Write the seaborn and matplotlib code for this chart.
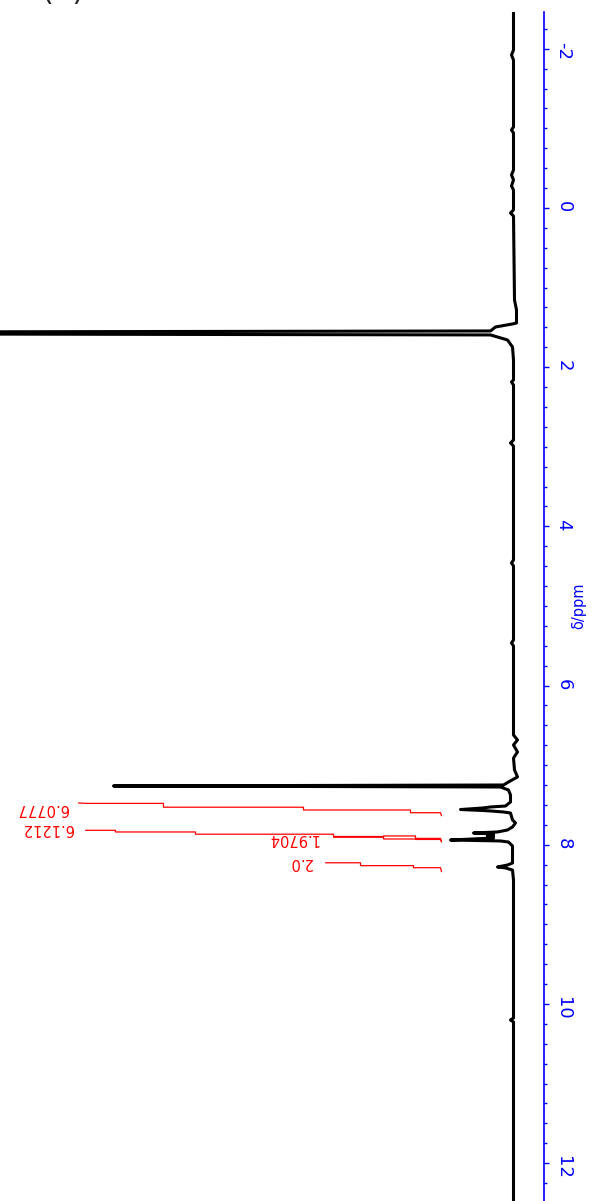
import pandas as pd
import matplotlib
matplotlib.use('Agg')
import matplotlib.pyplot as plt
from matplotlib.ticker import MultipleLocator
import seaborn as sns

# spectrum trace (chemical shift in ppm, intensity in arbitrary units)
shift_ppm = [-2.47, -1.985, -1.922, -1.859, -1.018, -0.980, -0.942, -0.477, -0.415, -0.352,
             -0.276, -0.226, 0.025, 0.063, 0.101, 1.156, 1.281, 1.445, 1.457, 1.495,
             1.545, 1.570, 1.595, 1.658, 1.746, 1.910, 2.161, 2.186, 2.224, 2.915,
             2.952, 2.990, 4.422, 4.460, 4.497, 5.427, 5.465, 5.503, 6.621, 6.683,
             6.746, 6.834, 6.910, 7.060, 7.148, 7.211, 7.249, 7.261, 7.274, 7.312,
             7.374, 7.462, 7.513, 7.525, 7.538, 7.557, 7.569, 7.575, 7.588, 7.601,
             7.688, 7.726, 7.776, 7.814, 7.839, 7.852, 7.864, 7.877, 7.889, 7.902,
             7.915, 7.940, 7.952, 7.965, 8.015, 8.229, 8.254, 8.279, 8.291, 8.317,
             8.442, 10.176, 10.201, 10.226, 12.50]
intensity = [0.0, 0.0, 0.02, 0.0, 0.0, 0.02, 0.0, 0.0, 0.02, 0.0,
             0.02, 0.0, 0.0, 0.03, 0.0, -0.01, -0.03, -0.03, 0.01, 0.18,
             0.23, 12.0, 0.23, 0.06, 0.01, 0.0, 0.0, 0.02, 0.0, 0.0,
             0.03, 0.0, 0.0, 0.02, 0.0, 0.0, 0.02, 0.0, 0.0, -0.04,
             0.0, -0.04, 0.0, -0.01, -0.04, 0.05, 0.10, 4.00, 0.13, 0.05,
             0.03, 0.03, 0.08, 0.23, 0.31, 0.53, 0.31, 0.23, 0.10, 0.03,
             0.01, -0.02, 0.01, 0.06, 0.16, 0.40, 0.20, 0.26, 0.20, 0.26,
             0.20, 0.63, 0.13, 0.05, 0.01, 0.01, 0.06, 0.16, 0.08, 0.01,
             0.0, 0.0, 0.03, 0.0, 0.0]

# integral curves
int_names = ['6.0777', '6.1212', '1.9704', '2.0']
int_ppm = [
    [7.475, 7.480, 7.480, 7.528, 7.528, 7.563, 7.563, 7.597, 7.597, 7.635],
    [7.818, 7.818, 7.818, 7.839, 7.839, 7.867, 7.867, 7.896, 7.896, 7.927, 7.927, 7.933, 7.933, 7.965],
    [7.905, 7.905, 7.889, 7.889, 7.920, 7.920, 7.955],
    [8.226, 8.226, 8.262, 8.262, 8.288, 8.288, 8.338],
]
int_value = [
    [4.35, 4.26, 3.50, 3.50, 2.10, 2.10, 1.03, 1.03, 0.73, 0.72],
    [4.28, 4.25, 3.98, 3.98, 3.18, 3.18, 1.80, 1.80, 1.30, 1.30, 0.98, 0.98, 0.73, 0.72],
    [1.80, 1.30, 1.30, 0.98, 0.98, 0.73, 0.72],
    [1.88, 1.53, 1.53, 1.00, 1.00, 0.73, 0.72],
]
label_x = [4.71, 4.66, 2.21, 2.13]
label_ppm = [7.538, 7.795, 7.915, 8.222]

spec = pd.DataFrame({'ppm': shift_ppm, 'intensity': intensity})
rows = []
for name, pp, vv in zip(int_names, int_ppm, int_value):
    for i, (p, v) in enumerate(zip(pp, vv)):
        rows.append({'trace': name, 'ppm': p, 'value': v, 'order': i})
integrals = pd.DataFrame(rows)

sns.set_style('white')
plt.rcParams['axes.unicode_minus'] = False

fig = plt.figure(figsize=(5.95, 12.01), dpi=100)
ax = fig.add_axes([0, 0, 544 / 595, 1 - 12 / 1201])

sns.lineplot(data=spec, x='intensity', y='ppm', sort=False, orient='y', estimator=None,
             color='black', linewidth=2.2, ax=ax)
sns.lineplot(data=integrals, x='value', y='ppm', units='trace', sort=False, orient='y',
             estimator=None, color='red', linewidth=0.9, ax=ax)

for name, lx, ly in zip(int_names, label_x, label_ppm):
    ax.text(lx, ly, name, rotation=180, color='red', fontsize=10.5,
            ha='center', va='center')

ax.set_xlim(5.135, -0.305)
ax.set_ylim(12.475, -2.462)
ax.set_xlabel('')
ax.set_ylabel('')
ax.set_xticks([])

ax.yaxis.tick_right()
ax.yaxis.set_major_locator(MultipleLocator(2))
ax.yaxis.set_minor_locator(MultipleLocator(0.25))
ax.tick_params(axis='y', which='both', colors='blue', direction='out', right=True, left=False)
ax.tick_params(axis='y', which='major', length=3.5, width=1.0, pad=4, labelsize=13)
ax.tick_params(axis='y', which='minor', length=2.2, width=1.0)
for lab in ax.get_yticklabels():
    lab.set_rotation(-90)

for side in ['left', 'top', 'bottom']:
    ax.spines[side].set_visible(False)
ax.spines['right'].set_color('blue')
ax.spines['right'].set_linewidth(1.2)

fig.text(578.5 / 595, 1 - 606 / 1201, 'δ/ppm', rotation=90, color='blue', fontsize=10.5,
         ha='center', va='center')
# panel letter, only its lower edge shows at the top of the picture
fig.text(63 / 595, 1.0, '(b)', fontsize=22, ha='center', va='baseline')

fig.savefig('out.png', dpi=100)
